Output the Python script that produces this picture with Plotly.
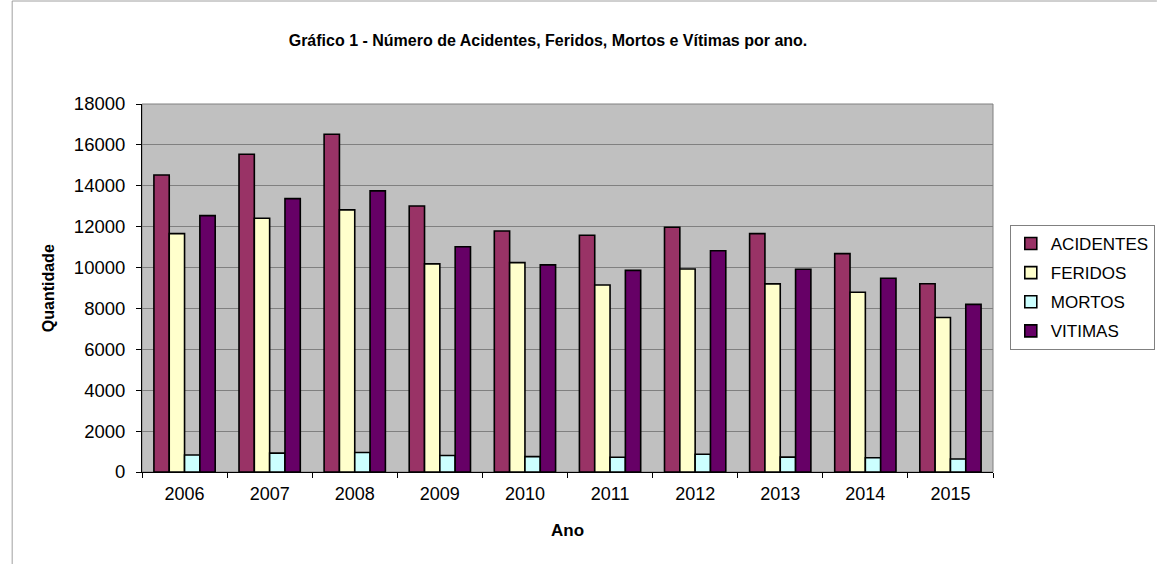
import plotly.graph_objects as go

anos = ["2006", "2007", "2008", "2009", "2010", "2011", "2012", "2013", "2014", "2015"]
acidentes = [14530, 15540, 16520, 13010, 11790, 11580, 11970, 11660, 10680, 9210]
feridos = [11660, 12410, 12820, 10180, 10240, 9150, 9930, 9200, 8790, 7560]
mortos = [835, 925, 955, 810, 750, 720, 865, 730, 700, 635]
vitimas = [12540, 13370, 13750, 11020, 10130, 9860, 10820, 9915, 9475, 8200]

series = [
    ("ACIDENTES", acidentes, "#993366"),
    ("FERIDOS", feridos, "#FFFFCC"),
    ("MORTOS", mortos, "#CCFFFF"),
    ("VITIMAS", vitimas, "#660066"),
]

FONT = "Liberation Sans, Arial, sans-serif"

fig = go.Figure()
for name, vals, color in series:
    fig.add_trace(go.Bar(
        x=anos, y=vals, name=name, legendgroup=name,
        marker=dict(color=color, line=dict(color="#000000", width=1.6)),
    ))

W, H = 1167, 564
L, R, T, B = 142, 1004, 104, 472
pw, ph = R - L, B - T

def px_x(p):
    return (p - L) / pw

def px_y(p):
    return (B - p) / ph

fig.update_layout(
    width=W, height=H,
    margin=dict(l=L, r=W - R, t=T, b=H - B),
    paper_bgcolor="white",
    plot_bgcolor="#C0C0C0",
    barmode="group",
    bargap=0.28,
    bargroupgap=0,
    font=dict(family=FONT, size=18, color="#000000"),
    title=dict(
        text="<b>Gráfico 1 - Número de Acidentes, Feridos, Mortos e Vítimas por ano.</b>",
        font=dict(family=FONT, size=16, color="#000000"),
        x=548 / W, xanchor="center", xref="container",
        y=1 - 40 / H, yanchor="middle", yref="container",
    ),
    xaxis=dict(
        type="category",
        showline=True, linecolor="#000000", linewidth=1,
        ticks="outside", tickson="boundaries", ticklen=5, tickcolor="#000000",
        showgrid=False,
        tickfont=dict(family=FONT, size=18),
        ticklabelstandoff=5,
    ),
    yaxis=dict(
        range=[0, 18000], tick0=0, dtick=2000,
        showline=True, linecolor="#000000", linewidth=1,
        ticks="outside", ticklen=5, tickcolor="#000000",
        showgrid=True, gridcolor="#808080", gridwidth=1,
        zeroline=False,
        tickfont=dict(family=FONT, size=18.5),
        tickformat="d",
        ticklabelstandoff=7,
    ),
    legend=dict(
        x=px_x(1021), y=px_y(225), xanchor="left", yanchor="top",
        bordercolor="#808080", borderwidth=1, bgcolor="white",
        font=dict(family=FONT, size=17),
        traceorder="grouped", tracegroupgap=4,
        itemwidth=30,
    ),
    showlegend=True,
    annotations=[
        dict(text="<b>Quantidade</b>", textangle=-90, x=px_x(47), y=px_y(288),
             xref="paper", yref="paper", showarrow=False,
             xanchor="center", yanchor="middle",
             font=dict(family=FONT, size=16)),
        dict(text="<b>Ano</b>", x=px_x(573), y=px_y(530),
             xref="paper", yref="paper", showarrow=False,
             xanchor="center", yanchor="middle",
             font=dict(family=FONT, size=17)),
    ],
    shapes=[
        dict(type="rect", xref="paper", yref="paper", x0=0, x1=1, y0=0, y1=1,
             line=dict(color="#808080", width=1), layer="below"),
        dict(type="line", xref="paper", yref="paper",
             x0=px_x(10.5), x1=px_x(10.5), y0=px_y(1), y1=px_y(570),
             line=dict(color="#A0A0A0", width=1)),
        dict(type="line", xref="paper", yref="paper",
             x0=px_x(10.5), x1=px_x(1170), y0=px_y(1), y1=px_y(1),
             line=dict(color="#A0A0A0", width=1)),
    ],
)

fig.write_html(
    "out.html",
    config={"displayModeBar": False},
    post_script="document.body.style.margin='0';document.body.style.overflow='hidden';",
)
